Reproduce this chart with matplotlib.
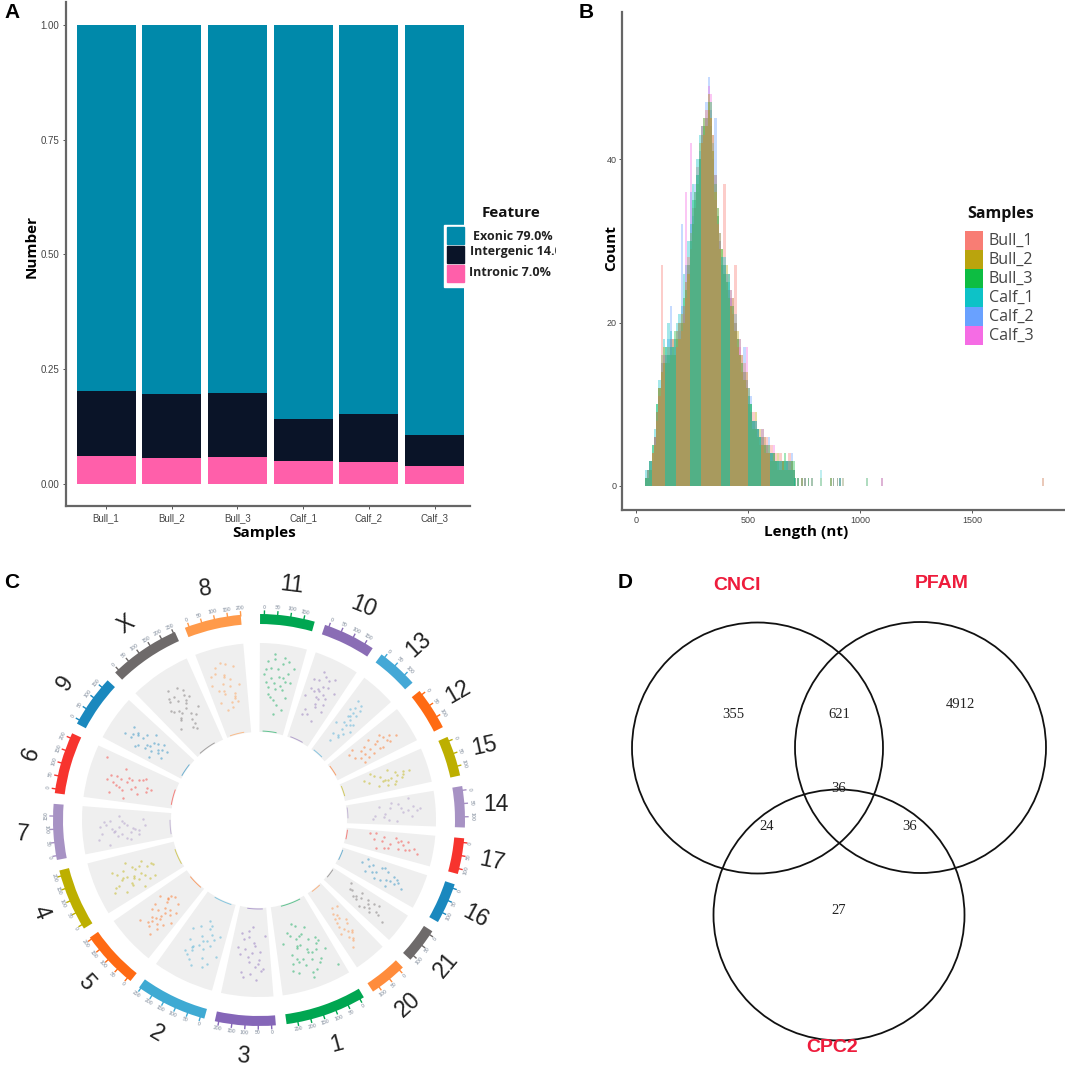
import numpy as np
from matplotlib import pyplot as plt
from matplotlib.patches import Circle, Rectangle

plt.rcParams['font.family'] = ['Liberation Sans', 'DejaVu Sans']

W, H = 1065, 1075
TITLE_FONT = ['Open Sans', 'DejaVu Sans']

# panel A
samples = ['Bull_1', 'Bull_2', 'Bull_3', 'Calf_1', 'Calf_2', 'Calf_3']
intronic = [0.062, 0.057, 0.058, 0.050, 0.048, 0.040]
intergenic = [0.140, 0.138, 0.140, 0.092, 0.104, 0.067]
exonic = [0.798, 0.805, 0.802, 0.858, 0.848, 0.893]
y_ticks_a = [0.00, 0.25, 0.50, 0.75, 1.00]
feature_labels = ['Exonic 79.0%', 'Intergenic 14.0%', 'Intronic 7.0%']

# panel B, counts per 10 nt bin starting at 40 nt
bull_1 = [1, 2, 3, 4, 6, 8, 11, 27, 15, 16, 15, 18, 16, 18, 17, 20, 19, 22, 23, 28, 29, 34, 34, 39, 40, 44, 43, 46, 46, 45, 41, 38, 32, 31, 27, 37, 25, 24, 24, 21, 27, 17, 18, 14, 15, 12, 11, 9, 9, 7, 7, 5, 7, 4, 6, 4, 5, 3, 4, 2, 4, 3, 2, 3, 4, 2, 2]
bull_2 = [1, 2, 2, 4, 5, 9, 12, 14, 17, 15, 17, 16, 18, 16, 19, 18, 21, 20, 25, 26, 31, 32, 36, 37, 42, 42, 45, 44, 48, 45, 43, 36, 34, 29, 29, 26, 27, 23, 22, 23, 19, 19, 16, 16, 13, 14, 10, 10, 7, 9, 6, 7, 5, 6, 4, 5, 3, 4, 3, 4, 2, 3, 3, 2, 3, 3, 2]
bull_3 = [1, 1, 3, 5, 6, 10, 12, 16, 15, 17, 16, 17, 17, 19, 18, 20, 20, 23, 24, 27, 30, 35, 35, 38, 40, 43, 44, 45, 47, 47, 41, 37, 33, 31, 29, 27, 25, 26, 22, 22, 20, 18, 16, 15, 14, 12, 12, 10, 8, 7, 7, 6, 6, 5, 5, 4, 4, 4, 3, 3, 3, 3, 4, 3, 2, 3, 3]
calf_1 = [2, 2, 3, 5, 7, 10, 13, 15, 18, 17, 20, 19, 17, 18, 20, 21, 22, 26, 27, 30, 32, 37, 36, 40, 43, 44, 45, 44, 46, 44, 42, 38, 34, 30, 28, 28, 26, 25, 23, 21, 21, 18, 16, 14, 13, 13, 11, 10, 8, 8, 7, 6, 5, 5, 5, 5, 4, 3, 3, 3, 3, 2, 3, 3, 3, 2, 2]
calf_2 = [1, 2, 3, 3, 6, 9, 11, 14, 16, 15, 18, 22, 16, 17, 19, 19, 32, 22, 25, 27, 36, 33, 37, 38, 41, 44, 44, 47, 50, 46, 40, 45, 33, 29, 27, 26, 24, 26, 24, 22, 19, 17, 18, 15, 17, 13, 10, 11, 8, 8, 7, 6, 7, 5, 4, 6, 4, 4, 3, 3, 2, 3, 3, 3, 3, 4, 1]
calf_3 = [1, 2, 2, 4, 6, 9, 12, 15, 16, 16, 16, 18, 18, 16, 17, 18, 20, 21, 36, 26, 42, 32, 34, 36, 40, 42, 43, 45, 49, 48, 43, 35, 32, 30, 28, 27, 26, 24, 23, 23, 20, 18, 17, 16, 14, 17, 12, 9, 8, 8, 7, 6, 6, 6, 5, 4, 4, 5, 3, 3, 3, 3, 2, 3, 3, 3, 2]
series_b = [bull_1, bull_2, bull_3, calf_1, calf_2, calf_3]
tail_lengths = [710, 725, 740, 755, 770, 785, 825, 870, 882, 900, 912, 925, 1032, 1098, 1818]
tail_counts = [[1, 1, 1, 1, 1, 1, 0, 1, 1, 1, 1, 0, 0, 1, 0],
               [1, 1, 1, 1, 1, 0, 1, 1, 1, 1, 0, 1, 1, 0, 1],
               [1, 1, 1, 0, 1, 1, 0, 1, 0, 0, 1, 0, 0, 0, 0],
               [1, 1, 0, 1, 1, 0, 2, 0, 1, 1, 1, 0, 1, 0, 0],
               [1, 0, 1, 1, 0, 1, 0, 1, 1, 0, 1, 1, 0, 1, 0],
               [0, 1, 1, 1, 1, 0, 0, 0, 1, 1, 1, 0, 0, 1, 1]]
# length ranges where the overlap looks tan in the picture, green elsewhere
tan_ranges = [(70, 130), (175, 240), (285, 375), (420, 495), (560, 600)]

# panel C, going clockwise from the top
chroms = ['11', '10', '13', '12', '15', '14', '17', '16', '21', '20', '1', '3', '2', '5', '4', '7', '6', '9', 'X', '8']
chrom_span = [15.4, 14.8, 11.7, 12.0, 11.3, 11.6, 10.1, 11.5, 10.0, 10.7, 22.9, 17.1, 20.2, 16.6, 17.6, 15.7, 17.4, 14.8, 20.2, 16.0]
label_rot = [-7, -22, 42, 30, 12, 0, -12, -28, 50, 42, 15, -5, -30, -48, -68, -5, 70, 55, 35, 8]
chrom_col = ['#00A651', '#8A6DB5', '#44A8D6', '#FF6A13', '#BDAF00', '#A792C4', '#F7342E', '#1A88BE', '#6E6A6A', '#FF8C3C',
             '#00A651', '#8566B8', '#3FAAD3', '#FF6A13', '#BDAF00', '#A792C4', '#F7342E', '#1A88BE', '#6E6A6A', '#FF9A4A']
point_pos = [
    [12, 20, 26, 34, 38, 45, 52, 58, 63, 70, 76, 82, 30, 48, 66, 22, 55, 40, 72, 15, 35, 60, 18, 28, 44, 50, 68, 80, 32, 56],
    [10, 18, 25, 33, 41, 47, 55, 62, 68, 74, 82, 38, 50, 28, 60, 70, 22, 44, 36, 52, 30, 42, 58, 65, 20, 48],
    [15, 24, 32, 40, 46, 52, 58, 66, 72, 80, 36, 48, 56, 44, 62, 28, 42, 50, 38, 54, 34, 60],
    [14, 22, 30, 38, 46, 53, 60, 68, 76, 84, 26, 42, 58, 72, 34, 50, 64, 56, 40, 70, 48, 62],
    [12, 22, 31, 40, 48, 56, 64, 72, 80, 46, 52, 60, 36, 68, 50, 44, 58, 54, 26, 76],
    [10, 20, 30, 40, 50, 60, 68, 76, 86, 35, 55, 72, 44, 24, 64, 48, 80, 38],
    [14, 24, 34, 44, 54, 64, 72, 82, 28, 48, 60, 38, 70, 18, 52, 42, 66, 32, 76],
    [12, 22, 30, 42, 52, 60, 66, 74, 84, 36, 56, 62, 70, 46, 50, 58, 40, 26, 64, 34],
    [16, 26, 34, 42, 50, 58, 64, 72, 80, 38, 54, 62, 68, 46, 44, 52, 60, 30, 70],
    [20, 30, 38, 46, 54, 60, 66, 72, 80, 42, 52, 58, 64, 34, 48, 56, 62, 44, 68],
    [8, 15, 22, 28, 34, 40, 45, 50, 55, 60, 66, 72, 78, 85, 30, 42, 52, 62, 70, 25, 48, 58, 38, 68, 36, 44, 54, 64, 74, 32, 46, 56, 20, 76, 50, 60],
    [10, 18, 26, 34, 42, 50, 58, 66, 74, 82, 30, 46, 62, 38, 54, 22, 70, 44, 36, 56, 28, 64, 48, 78],
    [10, 16, 22, 30, 36, 42, 48, 54, 60, 66, 72, 80, 28, 40, 52, 64, 34, 46, 58, 38, 50, 26, 70, 44, 62, 56],
    [12, 18, 26, 32, 38, 44, 50, 56, 62, 68, 74, 82, 30, 42, 54, 36, 48, 60, 24, 66, 40, 52, 34, 58, 46, 64, 28, 70],
    [10, 18, 24, 30, 36, 42, 48, 54, 60, 66, 72, 80, 28, 40, 52, 34, 46, 58, 64, 22, 38, 50, 44, 56, 32, 62, 26, 68],
    [10, 18, 26, 34, 42, 50, 58, 66, 74, 82, 30, 46, 62, 38, 54, 22, 70, 44, 36, 52, 28, 60, 48, 68, 40, 56],
    [10, 18, 26, 32, 38, 44, 50, 56, 62, 70, 78, 86, 40, 46, 52, 58, 34, 66, 28, 42, 48, 54, 36, 60],
    [12, 20, 28, 34, 40, 46, 52, 58, 64, 70, 78, 36, 44, 50, 56, 30, 62, 42, 38, 48, 32, 54, 60, 26],
    [18, 26, 32, 38, 44, 50, 56, 62, 68, 74, 80, 40, 48, 54, 60, 34, 66, 46, 42, 52, 36, 58, 64, 30, 70, 50],
    [12, 20, 28, 36, 44, 50, 58, 66, 72, 80, 32, 48, 62, 24, 54, 40, 70, 16, 38, 46, 56, 30, 64, 52],
]
point_height = [
    [65, 80, 42, 88, 55, 72, 30, 85, 48, 68, 40, 75, 60, 20, 58, 50, 78, 35, 25, 70, 82, 62, 55, 72, 48, 62, 82, 58, 38, 52],
    [50, 70, 35, 82, 60, 45, 75, 25, 55, 40, 65, 30, 52, 58, 68, 48, 28, 78, 62, 42, 72, 52, 58, 80, 60, 66],
    [40, 62, 28, 55, 72, 45, 60, 35, 50, 42, 66, 52, 30, 20, 48, 75, 60, 38, 46, 68, 54, 28],
    [30, 52, 66, 38, 75, 48, 82, 58, 42, 35, 24, 60, 70, 50, 44, 28, 72, 40, 68, 62, 56, 34],
    [35, 55, 25, 62, 78, 48, 68, 40, 58, 30, 70, 52, 44, 60, 64, 72, 46, 56, 38, 50],
    [70, 50, 35, 60, 78, 42, 72, 28, 55, 48, 62, 40, 82, 58, 30, 68, 46, 74],
    [32, 55, 70, 40, 78, 60, 48, 35, 42, 65, 72, 58, 82, 25, 50, 30, 68, 62, 44],
    [30, 52, 38, 65, 72, 58, 78, 45, 60, 25, 40, 68, 52, 70, 44, 62, 34, 48, 32, 56],
    [25, 42, 60, 30, 55, 72, 40, 62, 48, 52, 68, 35, 80, 44, 28, 38, 58, 66, 54],
    [30, 48, 62, 38, 70, 55, 45, 78, 58, 28, 60, 72, 40, 52, 42, 34, 66, 64, 50],
    [85, 62, 45, 70, 30, 80, 55, 38, 72, 48, 62, 30, 75, 42, 58, 68, 25, 50, 78, 52, 82, 40, 60, 35, 44, 58, 48, 66, 56, 74, 36, 64, 50, 66, 88, 22],
    [30, 68, 48, 80, 38, 60, 25, 72, 52, 44, 62, 20, 78, 42, 55, 70, 35, 50, 66, 32, 58, 46, 74, 28],
    [62, 38, 72, 52, 68, 30, 80, 45, 60, 35, 55, 42, 78, 58, 25, 72, 40, 50, 65, 48, 56, 44, 68, 34, 62, 76],
    [52, 40, 68, 30, 58, 72, 45, 62, 35, 75, 50, 40, 78, 55, 28, 42, 66, 52, 60, 34, 48, 70, 64, 38, 60, 30, 46, 56],
    [48, 70, 32, 60, 78, 45, 62, 36, 72, 52, 40, 58, 82, 55, 28, 42, 68, 50, 64, 38, 74, 66, 54, 30, 50, 44, 60, 76],
    [70, 45, 82, 55, 35, 66, 48, 75, 30, 58, 60, 40, 52, 78, 28, 50, 68, 62, 44, 58, 36, 72, 42, 54, 64, 80],
    [55, 72, 40, 62, 30, 78, 55, 68, 42, 35, 60, 85, 70, 25, 62, 50, 48, 38, 58, 44, 30, 74, 66, 54],
    [42, 62, 30, 72, 52, 38, 68, 46, 58, 35, 50, 80, 48, 60, 28, 52, 42, 72, 36, 66, 44, 34, 76, 60],
    [35, 58, 42, 70, 28, 62, 50, 75, 38, 60, 45, 52, 68, 30, 55, 44, 64, 78, 48, 36, 66, 42, 58, 54, 70, 24],
    [60, 38, 72, 50, 82, 30, 62, 45, 76, 55, 28, 68, 40, 52, 80, 58, 35, 70, 46, 66, 54, 78, 42, 36],
]

# panel D
venn_names = ['CNCI', 'PFAM', 'CPC2']
venn_counts = [355, 621, 4912, 36, 24, 36, 27]

fig = plt.figure(figsize=(W / 100, H / 100), dpi=100)


def px_axes(left, top, right, bottom, **kw):
    return fig.add_axes([left / W, 1 - bottom / H, (right - left) / W, (bottom - top) / H], **kw)


def style_axes(ax):
    for s in ['top', 'right']:
        ax.spines[s].set_visible(False)
    for s in ['left', 'bottom']:
        ax.spines[s].set_color('#666666')
        ax.spines[s].set_linewidth(1.6)


# ---- A
ax = px_axes(66, 2, 470, 506)
x = np.arange(len(samples))
bot = np.array(intronic) + np.array(intergenic)
ax.bar(x, intronic, width=0.9, color='#FF5FAA')
ax.bar(x, intergenic, width=0.9, bottom=intronic, color='#0A1428')
ax.bar(x, exonic, width=0.9, bottom=bot, color='#0089AA')
ax.set_xlim(-0.61, 5.54)
ax.set_ylim(-0.048, 1.05)
ax.set_xticks(x)
ax.set_xticklabels(samples)
ax.set_yticks(y_ticks_a)
ax.set_yticklabels(['%.2f' % v for v in y_ticks_a])
ax.tick_params(labelsize=7, length=2, width=0.7, color='#555555', labelcolor='#444444', pad=3)
ax.set_facecolor('none')
ax.set_xlabel('Samples', fontsize=11, fontweight='bold', family=TITLE_FONT)
ax.set_ylabel('Number', fontsize=11, fontweight='bold', family=TITLE_FONT)
ax.xaxis.set_label_coords((264 - 66) / 404, (506 - 533) / 504, transform=ax.transAxes)
ax.yaxis.set_label_coords((32 - 66) / 404, (506 - 246) / 504, transform=ax.transAxes)
ax.xaxis.label.set_verticalalignment('center')
ax.yaxis.label.set_verticalalignment('center')
style_axes(ax)

# ---- B
ax = px_axes(622, 12, 1065, 510)
cols_b = ['#F8766D', '#B79F00', '#00BA38', '#00BFC4', '#619CFF', '#F564E3']
order_green = [5, 4, 0, 1, 2, 3]
order_tan = [3, 4, 5, 2, 0, 1]
for i in order_green:
    vals = np.array(series_b[i])
    lengths = 40 + 10 * np.arange(len(vals))
    tan = np.zeros(len(vals), dtype=bool)
    for lo, hi in tan_ranges:
        tan |= (lengths >= lo) & (lengths < hi)
    ax.bar(lengths[~tan] + 5, vals[~tan], width=10, color=cols_b[i], alpha=0.36, linewidth=0)
    ax.bar(tail_lengths, tail_counts[i], width=8, color=cols_b[i], alpha=0.25, linewidth=0)
for i in order_tan:
    vals = np.array(series_b[i])
    lengths = 40 + 10 * np.arange(len(vals))
    tan = np.zeros(len(vals), dtype=bool)
    for lo, hi in tan_ranges:
        tan |= (lengths >= lo) & (lengths < hi)
    ax.bar(lengths[tan] + 5, vals[tan], width=10, color=cols_b[i], alpha=0.36, linewidth=0)
ax.set_xlim(-62, 1915)
ax.set_ylim(-2.94, 58)
ax.set_xticks([0, 500, 1000, 1500])
ax.set_yticks([0, 20, 40])
ax.tick_params(labelsize=6.5, length=2, width=0.7, color='#555555', labelcolor='#444444', pad=2)
ax.set_xlabel('Length (nt)', fontsize=11, fontweight='bold', family=TITLE_FONT)
ax.set_ylabel('Count', fontsize=11, fontweight='bold', family=TITLE_FONT)
ax.xaxis.set_label_coords((806 - 622) / 443, (510 - 532) / 498, transform=ax.transAxes)
ax.yaxis.set_label_coords((611 - 622) / 443, (510 - 248) / 498, transform=ax.transAxes)
ax.xaxis.label.set_verticalalignment('center')
ax.yaxis.label.set_verticalalignment('center')
style_axes(ax)

# ---- C
ax = fig.add_axes([(259 - 250) / W, 1 - (820 + 250) / H, 500 / W, 500 / H], projection='polar')
ax.set_theta_zero_location('N')
ax.set_theta_direction(-1)
ax.set_rlim(0, 250)
ax.axis('off')
start = 0.3
for i, name in enumerate(chroms):
    span = chrom_span[i]
    col = chrom_col[i]
    mid = np.radians(start + span / 2)
    ax.bar(mid, 10, width=np.radians(span), bottom=196, color=col, linewidth=0)
    ax.bar(mid, 89, width=np.radians(span), bottom=88, color='#EFEFEF', linewidth=0)
    # ticks and their tiny labels
    for j, t in enumerate(np.arange(start + 1.2, start + span, 3.7)):
        th = np.radians(t)
        ax.plot([th, th], [205, 209], color=col, lw=1.0)
        rot = -t if t < 90 or t > 270 else 180 - t
        ax.text(th, 213, str(j * 50), fontsize=3.8, fontweight='bold', color='#A5ADB8', ha='center', va='center',
                rotation=rot)
    # points
    th = np.radians(start + span * np.array(point_pos[i]) / 100)
    rr = 90 + 87 * np.array(point_height[i]) / 100
    ax.scatter(th, rr, s=3, color=col, alpha=0.45, linewidth=0)
    # dense band close to the inner edge
    th_in = np.linspace(np.radians(start + span * 0.15), np.radians(start + span * 0.7), 12)
    ax.plot(th_in, np.full(12, 89), color=col, lw=0.7, alpha=0.6)
    ax.text(mid, 237, name, fontsize=16.5, color='#222222', rotation=label_rot[i],
            ha='center', va='center', rotation_mode='anchor')
    start += span + 3.0

# ---- overlay: legends, venn, panel letters
ov = fig.add_axes([0, 0, 1, 1])
ov.set_xlim(0, W)
ov.set_ylim(H, 0)
ov.axis('off')
ov.patch.set_alpha(0)

for lab, px, py in zip('ABCD', [12, 586, 12, 625], [13, 13, 583, 583]):
    ov.text(px, py, lab, fontsize=15, fontweight='bold', ha='center', va='center', color='k')

# legend of panel A, white box over the last bar
ov.add_patch(Rectangle((444, 225), 21, 62, color='white', zorder=2))
feature_cols = ['#0089AA', '#0A1428', '#FF5FAA']
for i, (c, lab) in enumerate(zip(feature_cols, feature_labels)):
    ov.add_patch(Rectangle((447, [227, 246, 265][i]), 17, 17, color=c, zorder=3))
    t = ov.text([473, 470, 469][i], [237, 252, 272][i], lab, fontsize=9, fontweight='bold',
                color='#222222', va='center', family=TITLE_FONT, zorder=3)
    # the reference cuts the long label off at the panel edge
    t.set_clip_on(True)
    t.set_clip_path(Rectangle((0, 0), 556, H, transform=ov.transData))
ov.text(511, 213, 'Feature', fontsize=11, fontweight='bold', ha='center', va='center', color='#111111',
        family=TITLE_FONT)

# legend of panel B
ov.text(1001, 214, 'Samples', fontsize=11.5, fontweight='bold', ha='center', va='center', color='#111111',
        family=TITLE_FONT)
for i, s in enumerate(samples):
    ov.add_patch(Rectangle((965, 231 + 19 * i), 18, 19, color=cols_b[i], alpha=0.95, linewidth=0))
    ov.text(989, 241 + 19 * i, s, fontsize=11.5, color='#444444', va='center', family=TITLE_FONT)

# venn of panel D
venn_x = [757.5, 920.5, 839]
venn_y = [748, 747.5, 915]
for vx, vy in zip(venn_x, venn_y):
    ov.add_patch(Circle((vx, vy), 125.5, fill=False, ec='#111111', lw=1.3))
for name, px, py in zip(venn_names, [737, 942, 832], [585, 583, 1047]):
    ov.text(px, py, name, fontsize=14, fontweight='bold', color='#EE1C3C', ha='center', va='center')
for n, px, py in zip(venn_counts, [733, 839, 960, 839, 767, 910, 839], [715, 715, 704, 788, 827, 827, 910]):
    ov.text(px, py, str(n), fontsize=10.5, color='#222222', ha='center', va='center',
            family=['Liberation Serif', 'DejaVu Serif'])

plt.savefig('out.png', dpi=100)
